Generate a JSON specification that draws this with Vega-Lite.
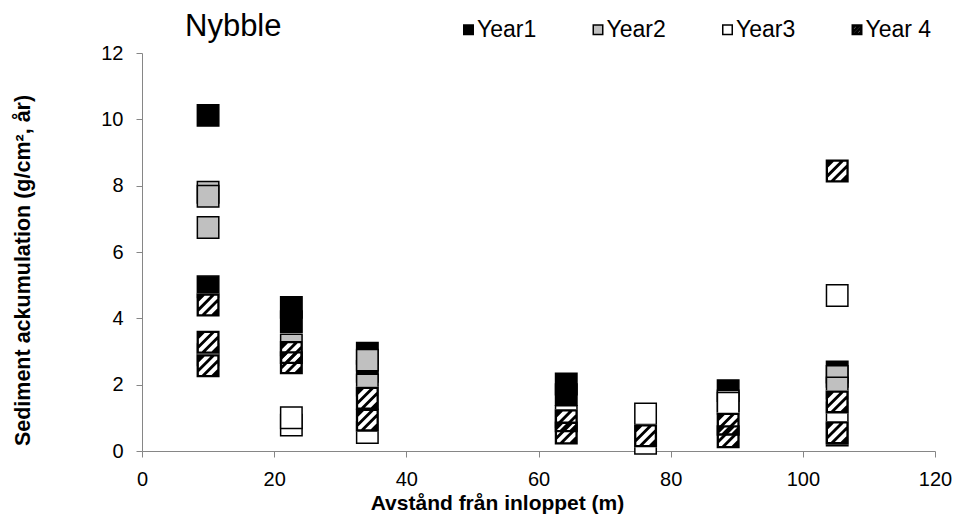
{
  "$schema": "https://vega.github.io/schema/vega-lite/v6.json",
  "width": 793,
  "height": 398,
  "autosize": {"type": "none"},
  "padding": {"left": 142, "top": 53, "right": 21, "bottom": 66},
  "background": "white",
  "config": {"view": {"stroke": null}, "font": "Liberation Sans"},
  "title": {"text": "Nybble", "anchor": "start", "frame": "group", "dx": 43, "dy": 33, "fontSize": 31, "fontWeight": "normal", "baseline": "top", "offset": 8, "color": "black", "font": "Liberation Sans"},
  "data": {
    "values": [
      {"x": 10, "y": 10.12, "year": "Year1"},
      {"x": 10, "y": 4.95, "year": "Year1"},
      {"x": 22.6, "y": 4.33, "year": "Year1"},
      {"x": 22.6, "y": 3.9, "year": "Year1"},
      {"x": 34.1, "y": 2.95, "year": "Year1"},
      {"x": 34.1, "y": 2.4, "year": "Year1"},
      {"x": 64.2, "y": 2.02, "year": "Year1"},
      {"x": 64.2, "y": 1.7, "year": "Year1"},
      {"x": 88.7, "y": 1.82, "year": "Year1"},
      {"x": 105.2, "y": 2.38, "year": "Year1"},
      {"x": 105.2, "y": 0.48, "year": "Year1"},
      {"x": 10, "y": 7.8, "year": "Year2"},
      {"x": 10, "y": 7.68, "year": "Year2"},
      {"x": 10, "y": 6.74, "year": "Year2"},
      {"x": 22.6, "y": 3.2, "year": "Year2"},
      {"x": 34.1, "y": 2.74, "year": "Year2"},
      {"x": 34.1, "y": 1.99, "year": "Year2"},
      {"x": 88.7, "y": 1.51, "year": "Year2"},
      {"x": 105.2, "y": 2.25, "year": "Year2"},
      {"x": 105.2, "y": 1.9, "year": "Year2"},
      {"x": 10, "y": 2.9, "year": "Year3"},
      {"x": 22.6, "y": 0.78, "year": "Year3"},
      {"x": 22.6, "y": 1.0, "year": "Year3"},
      {"x": 34.1, "y": 0.56, "year": "Year3"},
      {"x": 64.2, "y": 1.04, "year": "Year3"},
      {"x": 76.2, "y": 1.12, "year": "Year3"},
      {"x": 76.2, "y": 0.23, "year": "Year3"},
      {"x": 88.7, "y": 1.44, "year": "Year3"},
      {"x": 105.2, "y": 4.69, "year": "Year3"},
      {"x": 105.2, "y": 1.15, "year": "Year3"},
      {"x": 10, "y": 4.4, "year": "Year 4"},
      {"x": 10, "y": 2.57, "year": "Year 4"},
      {"x": 10, "y": 3.28, "year": "Year 4"},
      {"x": 22.6, "y": 2.66, "year": "Year 4"},
      {"x": 22.6, "y": 2.97, "year": "Year 4"},
      {"x": 34.1, "y": 1.59, "year": "Year 4"},
      {"x": 34.1, "y": 0.93, "year": "Year 4"},
      {"x": 64.2, "y": 0.91, "year": "Year 4"},
      {"x": 64.2, "y": 0.54, "year": "Year 4"},
      {"x": 76.2, "y": 0.46, "year": "Year 4"},
      {"x": 88.7, "y": 0.81, "year": "Year 4"},
      {"x": 88.7, "y": 0.43, "year": "Year 4"},
      {"x": 105.2, "y": 8.44, "year": "Year 4"},
      {"x": 105.2, "y": 1.48, "year": "Year 4"},
      {"x": 105.2, "y": 0.55, "year": "Year 4"}
    ]
  },
  "encoding": {
    "x": {"field": "x", "type": "quantitative", "scale": {"domain": [0, 120], "nice": false, "zero": false},
      "axis": {"values": [0, 20, 40, 60, 80, 100, 120], "title": "Avstånd från inloppet (m)", "grid": false, "tickSize": 6, "labelPadding": 12, "labelFontSize": 20, "labelColor": "black", "labelFlush": false, "domainColor": "#868686", "tickColor": "#868686", "titleFontSize": 21, "titleFontWeight": "bold", "titleColor": "black", "titleX": 355, "titleY": 58, "titleBaseline": "alphabetic"}},
    "y": {"field": "y", "type": "quantitative", "scale": {"domain": [0, 12], "nice": false},
      "axis": {"values": [0, 2, 4, 6, 8, 10, 12], "title": "Sediment ackumulation (g/cm², år)", "grid": false, "tickSize": 6, "labelPadding": 13, "labelFontSize": 20, "labelColor": "black", "domainColor": "#868686", "tickColor": "#868686", "titleFontSize": 21.5, "titleFontWeight": "bold", "titleColor": "black", "titleX": -119, "titleY": 217, "titleBaseline": "middle", "titleAngle": -90}}
  },
  "layer": [
    {
      "transform": [{"filter": "datum.year !== 'Year 4'"}],
      "mark": {"type": "point", "filled": true, "stroke": "black", "strokeWidth": 1.5, "opacity": 1, "size": 460},
      "encoding": {
        "fill": {"field": "year", "type": "nominal", "scale": {"domain": ["Year1", "Year2", "Year3", "Year 4"], "range": ["black", "#c0c0c0", "white", "black"]},
          "legend": {"title": null, "orient": "none", "legendX": 315, "legendY": -35, "direction": "horizontal", "columns": 4, "gridAlign": "all", "columnPadding": 43.5, "symbolSize": 90, "labelFontSize": 23, "labelOffset": -3, "labelColor": "black", "padding": 0,
            "encode": {"symbols": {"update": {"stroke": {"value": "black"}, "strokeWidth": {"value": 1}}}}}},
        "shape": {"field": "year", "type": "nominal", "scale": {"domain": ["Year1", "Year2", "Year3", "Year 4"], "range": ["square", "square", "square", "M-1,-1H1V1H-1Z M-0.8,-0.3L-0.8,0.2L0.2,-0.8L-0.3,-0.8Z M-0.8,0.55L-0.8,0.8L-0.55,0.8L0.8,-0.55L0.8,-0.8L0.55,-0.8Z M-0.2,0.8L0.3,0.8L0.8,0.3L0.8,-0.2Z"]},
          "legend": {"title": null, "orient": "none", "legendX": 315, "legendY": -35, "direction": "horizontal", "columns": 4, "gridAlign": "all", "columnPadding": 43.5, "symbolSize": 90, "labelFontSize": 23, "labelOffset": -3, "labelColor": "black", "padding": 0,
            "encode": {"symbols": {"update": {"stroke": {"value": "black"}, "strokeWidth": {"value": 1}}}}}}
      }
    },
    {
      "transform": [{"filter": "datum.year === 'Year 4'"}],
      "mark": {"type": "point", "shape": "square", "filled": true, "fill": "white", "strokeWidth": 0, "opacity": 1, "size": 529},
      "encoding": {}
    },
    {
      "transform": [{"filter": "datum.year === 'Year 4'"}],
      "mark": {"type": "point", "filled": true, "strokeWidth": 0, "opacity": 1, "size": 529},
      "encoding": {
        "fill": {"field": "year", "type": "nominal", "scale": {"domain": ["Year1", "Year2", "Year3", "Year 4"], "range": ["black", "#c0c0c0", "white", "black"]}},
        "shape": {"field": "year", "type": "nominal", "scale": {"domain": ["Year1", "Year2", "Year3", "Year 4"], "range": ["square", "square", "square", "M-1,-1H1V1H-1Z M-0.8,-0.3L-0.8,0.2L0.2,-0.8L-0.3,-0.8Z M-0.8,0.55L-0.8,0.8L-0.55,0.8L0.8,-0.55L0.8,-0.8L0.55,-0.8Z M-0.2,0.8L0.3,0.8L0.8,0.3L0.8,-0.2Z"]}}
      }
    }
  ]
}
